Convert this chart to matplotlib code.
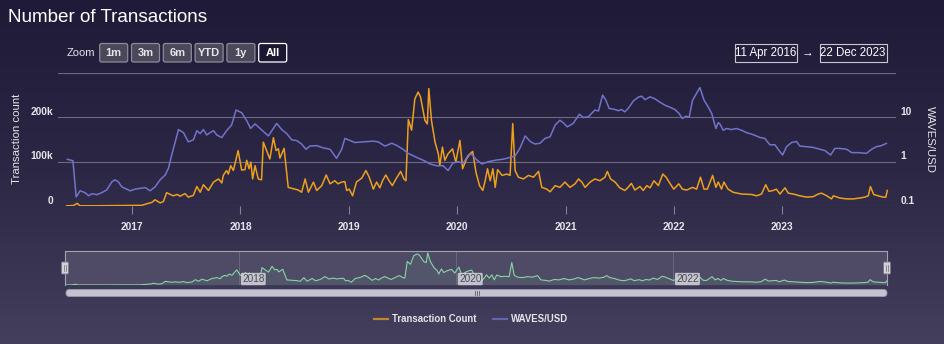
import numpy as np
import pandas as pd
import matplotlib as mpl
mpl.use('Agg')
import matplotlib.pyplot as plt
from matplotlib.patches import FancyBboxPatch, Rectangle

plt.rcParams['font.family'] = ['Liberation Sans', 'DejaVu Sans']

# Transaction count (thousands)
tx_dates = [
    '2016-05-25', '2016-06-17', '2016-06-29', '2016-07-09', '2016-08-23', '2016-10-19', '2016-12-13',
    '2017-02-02', '2017-02-19', '2017-03-08', '2017-03-19', '2017-04-05', '2017-04-16', '2017-04-27',
    '2017-05-19', '2017-06-02', '2017-06-11', '2017-06-28', '2017-07-09', '2017-07-26', '2017-08-07',
    '2017-08-18', '2017-08-29', '2017-09-15', '2017-10-02', '2017-10-19', '2017-10-30', '2017-11-04',
    '2017-11-15', '2017-11-21', '2017-11-29', '2017-12-08', '2017-12-24', '2018-01-05', '2018-01-16',
    '2018-01-22', '2018-01-30', '2018-02-05', '2018-02-11', '2018-02-19', '2018-03-02', '2018-03-13',
    '2018-03-19', '2018-03-30', '2018-04-10', '2018-04-22', '2018-05-01', '2018-05-09', '2018-05-14',
    '2018-05-28', '2018-06-11', '2018-06-28', '2018-07-15', '2018-07-26', '2018-08-07', '2018-08-18',
    '2018-09-04', '2018-09-15', '2018-10-02', '2018-10-17', '2018-10-30', '2018-11-15', '2018-11-26',
    '2018-12-08', '2018-12-19', '2018-12-25', '2019-01-03', '2019-01-14', '2019-01-27', '2019-02-14',
    '2019-02-28', '2019-03-11', '2019-03-25', '2019-04-05', '2019-04-16', '2019-04-25', '2019-05-06',
    '2019-05-17', '2019-05-28', '2019-06-11', '2019-06-25', '2019-07-06', '2019-07-13', '2019-07-21',
    '2019-08-01', '2019-08-12', '2019-08-23', '2019-08-31', '2019-09-15', '2019-09-23', '2019-09-28',
    '2019-10-07', '2019-10-19', '2019-10-30', '2019-11-04', '2019-11-13', '2019-11-21', '2019-12-02',
    '2019-12-17', '2019-12-28', '2020-01-11', '2020-01-20', '2020-02-02', '2020-02-14', '2020-02-23',
    '2020-03-05', '2020-03-17', '2020-03-28', '2020-04-05', '2020-04-13', '2020-04-22', '2020-05-01',
    '2020-05-09', '2020-05-17', '2020-06-01', '2020-06-17', '2020-06-28', '2020-07-07', '2020-07-15',
    '2020-07-26', '2020-08-12', '2020-08-29', '2020-09-15', '2020-10-02', '2020-10-13', '2020-10-30',
    '2020-11-10', '2020-11-27', '2020-12-13', '2020-12-30', '2021-01-16', '2021-02-02', '2021-02-14',
    '2021-02-25', '2021-03-08', '2021-03-25', '2021-04-10', '2021-04-27', '2021-05-14', '2021-05-22',
    '2021-06-02', '2021-06-17', '2021-07-03', '2021-07-20', '2021-07-31', '2021-08-11', '2021-08-23',
    '2021-09-09', '2021-09-20', '2021-10-02', '2021-10-13', '2021-10-26', '2021-11-10', '2021-11-25',
    '2021-12-06', '2021-12-20', '2022-01-01', '2022-01-18', '2022-01-30', '2022-02-14', '2022-03-05',
    '2022-03-19', '2022-04-01', '2022-04-13', '2022-04-24', '2022-05-12', '2022-05-23', '2022-05-31',
    '2022-06-11', '2022-06-19', '2022-07-03', '2022-07-20', '2022-08-18', '2022-09-20', '2022-10-07',
    '2022-10-24', '2022-11-07', '2022-11-18', '2022-12-02', '2022-12-13', '2022-12-25', '2023-01-11',
    '2023-01-22', '2023-02-08', '2023-03-02', '2023-03-25', '2023-04-16', '2023-05-03', '2023-05-14',
    '2023-06-01', '2023-06-17', '2023-06-23', '2023-07-15', '2023-08-07', '2023-08-29', '2023-09-20',
    '2023-10-07', '2023-10-19', '2023-10-26', '2023-11-06', '2023-11-21', '2023-12-08', '2023-12-17',
    '2023-12-22',
]
tx_count_k = [
    0.5, 1, 6, 0.5, 0.5, 0.8, 1,
    1.5, 5, 8, 14, 7, 10, 30,
    23, 26, 22, 28, 20, 24, 44,
    31, 48, 35, 54, 61, 52, 69,
    80, 72, 91, 80, 125, 81, 82,
    103, 84, 99, 61, 91, 61, 59,
    144, 125, 106, 154, 125, 129, 108,
    130, 42, 39, 36, 31, 61, 31,
    54, 35, 46, 70, 50, 57, 50,
    54, 55, 35, 38, 23, 54, 63,
    80, 65, 38, 54, 41, 57, 70,
    57, 46, 63, 78, 61, 57, 195,
    171, 242, 257, 246, 193, 185, 265,
    193, 144, 118, 91, 133, 103, 118,
    129, 99, 148, 84, 106, 118, 123,
    76, 46, 35, 57, 84, 57, 84,
    42, 82, 69, 72, 69, 186, 80,
    65, 61, 69, 65, 78, 42, 38,
    32, 46, 42, 54, 42, 50, 61,
    54, 42, 54, 61, 57, 65, 78,
    61, 54, 41, 35, 42, 51, 36,
    44, 35, 46, 41, 57, 46, 72,
    65, 50, 38, 50, 38, 36, 42,
    38, 65, 38, 38, 69, 42, 54,
    38, 54, 38, 31, 27, 26, 23,
    27, 48, 33, 35, 38, 27, 41,
    29, 27, 23, 20, 21, 27, 29,
    23, 16, 23, 18, 16, 16, 18,
    20, 23, 44, 26, 23, 20, 20,
    35,
]

# WAVES/USD price
price_dates = [
    '2016-05-27', '2016-06-15', '2016-06-26', '2016-07-09', '2016-07-26', '2016-08-07', '2016-08-18',
    '2016-09-04', '2016-09-20', '2016-10-07', '2016-10-24', '2016-11-04', '2016-11-15', '2016-11-27',
    '2016-12-13', '2016-12-25', '2017-01-11', '2017-01-27', '2017-02-14', '2017-03-02', '2017-03-19',
    '2017-04-05', '2017-04-22', '2017-05-03', '2017-05-14', '2017-05-26', '2017-06-06', '2017-06-23',
    '2017-07-09', '2017-07-26', '2017-08-07', '2017-08-18', '2017-08-29', '2017-09-09', '2017-09-18',
    '2017-10-02', '2017-10-13', '2017-10-30', '2017-11-15', '2017-12-02', '2017-12-17', '2018-01-05',
    '2018-01-22', '2018-02-04', '2018-02-19', '2018-03-08', '2018-04-05', '2018-05-03', '2018-05-20',
    '2018-06-06', '2018-06-23', '2018-07-09', '2018-07-26', '2018-08-10', '2018-08-23', '2018-09-15',
    '2018-10-07', '2018-10-30', '2018-11-21', '2018-12-02', '2018-12-08', '2018-12-19', '2019-01-05',
    '2019-01-22', '2019-02-19', '2019-03-25', '2019-04-10', '2019-05-03', '2019-05-26', '2019-06-11',
    '2019-07-03', '2019-07-20', '2019-08-18', '2019-09-15', '2019-10-02', '2019-10-24', '2019-11-15',
    '2019-12-02', '2019-12-18', '2020-01-05', '2020-01-22', '2020-02-08', '2020-02-19', '2020-03-08',
    '2020-03-25', '2020-04-16', '2020-05-14', '2020-06-06', '2020-06-28', '2020-07-15', '2020-07-31',
    '2020-08-18', '2020-09-04', '2020-09-20', '2020-10-07', '2020-10-24', '2020-11-10', '2020-11-27',
    '2020-12-13', '2020-12-25', '2021-01-07', '2021-01-27', '2021-02-17', '2021-03-02', '2021-03-19',
    '2021-04-10', '2021-04-22', '2021-05-06', '2021-05-17', '2021-05-28', '2021-06-17', '2021-06-28',
    '2021-07-09', '2021-07-20', '2021-07-31', '2021-08-18', '2021-09-04', '2021-09-15', '2021-09-26',
    '2021-10-13', '2021-10-30', '2021-11-15', '2021-12-02', '2021-12-20', '2022-01-05', '2022-01-19',
    '2022-01-30', '2022-02-11', '2022-02-22', '2022-03-05', '2022-03-19', '2022-03-30', '2022-04-13',
    '2022-04-27', '2022-05-09', '2022-05-23', '2022-05-31', '2022-06-06', '2022-06-17', '2022-06-28',
    '2022-07-15', '2022-07-31', '2022-08-18', '2022-09-04', '2022-09-20', '2022-10-07', '2022-10-19',
    '2022-11-04', '2022-11-21', '2022-12-08', '2022-12-25', '2023-01-03', '2023-01-16', '2023-02-02',
    '2023-02-19', '2023-03-02', '2023-03-25', '2023-04-16', '2023-05-09', '2023-05-26', '2023-06-14',
    '2023-06-28', '2023-07-15', '2023-08-07', '2023-08-24', '2023-09-15', '2023-10-13', '2023-10-30',
    '2023-11-15', '2023-12-02', '2023-12-19',
]
waves_usd = [
    1.13, 1.05, 0.16, 0.22, 0.20, 0.17, 0.19,
    0.18, 0.20, 0.23, 0.35, 0.39, 0.35, 0.27,
    0.24, 0.22, 0.24, 0.25, 0.26, 0.22, 0.27,
    0.39, 0.50, 0.71, 1.41, 2.8, 5.3, 4.5,
    2.8, 3.1, 5.0, 4.3, 5.3, 4.0, 4.4,
    5.0, 4.0, 3.5, 5.0, 6.7, 14.6, 12.7,
    8.4, 5.6, 7.1, 5.6, 3.8, 7.3, 5.3,
    4.3, 3.1, 3.0, 2.5, 1.9, 2.25, 2.3,
    2.05, 1.9, 1.19, 1.6, 1.9, 3.35, 3.0,
    2.7, 2.8, 2.9, 2.8, 2.25, 2.6, 2.35,
    1.9, 1.54, 1.25, 1.03, 0.89, 0.81, 0.81,
    0.63, 0.93, 1.0, 0.92, 1.41, 1.48, 1.09,
    0.89, 1.0, 1.09, 1.14, 1.25, 1.34, 2.0,
    3.8, 2.85, 2.5, 2.6, 3.35, 3.65, 6.7,
    8.6, 7.5, 6.1, 7.3, 11.8, 9.9, 10.3,
    14.6, 13.9, 31.7, 24.5, 15.9, 15.0, 14.1,
    15.0, 13.3, 15.8, 23.5, 28.7, 30.0, 25.0,
    29.0, 26.0, 22.0, 18.8, 16.8, 15.0, 12.2,
    9.4, 10.6, 10.1, 24.0, 35.0, 47.0, 24.4,
    17.2, 12.2, 5.6, 7.6, 7.0, 5.1, 5.6,
    5.3, 5.6, 5.1, 4.5, 4.2, 3.8, 3.5,
    3.35, 2.4, 2.4, 1.68, 1.41, 2.17, 2.7,
    2.85, 2.25, 2.17, 2.1, 1.9, 1.77, 1.41,
    1.99, 1.99, 1.9, 1.6, 1.6, 1.54, 1.9,
    2.17, 2.3, 2.58,
]

left_ticks = [0, 100, 200]
right_ticks = [0.1, 1, 10]
x_years = [2017, 2018, 2019, 2020, 2021, 2022, 2023]
nav_years = [2018, 2020, 2022]
zoom_buttons = ['1m', '3m', '6m', 'YTD', '1y', 'All']

ORANGE = '#eda01c'
BLUE = '#7273cc'
NAV_GREEN = '#86d6a4'
GRID = '#6d6a7c'
TXT = '#e4e4ea'

W, H = 944, 344
fig = plt.figure(figsize=(W / 100, H / 100), dpi=100)

def fx(px):
    return px / W

def fy(py):
    return 1 - py / H

# background gradient
bg = fig.add_axes([0, 0, 1, 1], zorder=-10)
grad = np.linspace(0, 1, 256).reshape(-1, 1)
bg_cmap = mpl.colors.LinearSegmentedColormap.from_list('bg', ['#1f1a37', '#2c2745', '#433f5c'])
bg.imshow(grad, aspect='auto', cmap=bg_cmap, extent=[0, 1, 0, 1], origin='upper')
bg.axis('off')

tx_t = pd.to_datetime(tx_dates)
px_t = pd.to_datetime(price_dates)
t0, t1 = tx_t.min(), tx_t.max()
pad = (t1 - t0) * 0.0106

# main chart
ax = fig.add_axes([fx(58), fy(206), fx(896) - fx(58), fy(73) - fy(206)])
ax.patch.set_alpha(0)
for s in ax.spines.values():
    s.set_visible(False)
ax.set_ylim(0, 300)
ax.set_yticks([0, 100, 200, 300])
ax.grid(axis='y', color=GRID, lw=0.8)
ax.tick_params(axis='y', length=0, labelleft=False)
ax.plot(tx_t, tx_count_k, color=ORANGE, lw=1.1)
ax.set_xlim(t0 - pad, t1 + pad)
ax.set_xticks(pd.to_datetime([f'{y}-01-01' for y in x_years]))
ax.set_xticklabels([str(y) for y in x_years], fontweight='bold')
ax.tick_params(axis='x', length=6, width=0.8, color='#858296', labelcolor=TXT, labelsize=7.4, pad=5.5)

for v in left_ticks:
    ax.annotate('0' if v == 0 else f'{v}k', xy=(0, v), xycoords=ax.get_yaxis_transform(),
                xytext=(-3.6, 3.8), textcoords='offset points', ha='right', va='center',
                fontsize=7.4, fontweight='bold', color=TXT)

axr = ax.twinx()
axr.set_yscale('log')
axr.set_ylim(0.1, 100)
for s in axr.spines.values():
    s.set_visible(False)
axr.tick_params(axis='y', which='both', length=0, labelright=False)
axr.plot(px_t, waves_usd, color=BLUE, lw=1.1)
for v in right_ticks:
    axr.annotate(f'{v:g}', xy=(1, v), xycoords=axr.get_yaxis_transform(),
                 xytext=(3, 3.8), textcoords='offset points', ha='left', va='center',
                 fontsize=7.4, fontweight='bold', color=TXT)

# navigator
nav = fig.add_axes([fx(65), fy(285), fx(887) - fx(65), fy(250.7) - fy(285)])
nav.set_facecolor('#4f4b66')
for s in nav.spines.values():
    s.set_color('#a5a2b4')
    s.set_linewidth(0.8)
nav.spines['bottom'].set_visible(False)
nav.plot(tx_t, tx_count_k, color=NAV_GREEN, lw=0.8)
nav.fill_between(tx_t, tx_count_k, color=NAV_GREEN, alpha=0.08, lw=0)
nav.set_xlim(t0, t1)
nav.set_ylim(0, max(tx_count_k) * 1.07)
yr_t = pd.to_datetime([f'{y}-01-01' for y in nav_years])
nav.set_xticks(yr_t)
nav.set_yticks([])
nav.grid(axis='x', color='#6f6b84', lw=0.6)
nav.tick_params(axis='x', length=0, labelbottom=False)
for y, t in zip(nav_years, yr_t):
    nav.annotate(str(y), xy=(t, 0), xycoords=('data', 'axes fraction'), xytext=(2.2, 4.3),
                 textcoords='offset points', ha='left', va='center', fontsize=7.2, color='#4a4a55',
                 bbox=dict(boxstyle='round,pad=0.12', fc='#d6d5de', ec='none', alpha=0.85))

# overlay in pixel coordinates for the widgets
ov = fig.add_axes([0, 0, 1, 1], zorder=5)
ov.set_xlim(0, W)
ov.set_ylim(H, 0)
ov.axis('off')

ov.text(8, 17, 'Number of Transactions', fontsize=13.6, color='white', ha='left', va='center')
ov.text(17, 139, 'Transaction count', rotation=90, fontsize=8.2, color=TXT, ha='center', va='center')
ov.text(930, 139, 'WAVES/USD', rotation=270, fontsize=8.2, color=TXT, ha='center', va='center')

ov.text(67, 52.5, 'Zoom', fontsize=8, color=TXT, ha='left', va='center')
bx = 99.7
for lab in zoom_buttons:
    sel = lab == 'All'
    ov.add_patch(FancyBboxPatch((bx, 43.5), 28, 18.5, boxstyle='round,pad=0,rounding_size=2',
                                fc='#1b1631' if sel else '#4b4959',
                                ec='white' if sel else '#8d8b9b', lw=0.9))
    ov.text(bx + 14, 53, lab, fontsize=8, fontweight='bold', color='white' if sel else TXT,
            ha='center', va='center')
    bx += 31.8

ov.add_patch(Rectangle((734.5, 43.5), 62.5, 18.5, fc='none', ec='#c9c8d2', lw=0.8))
ov.text(765.7, 53, '11 Apr 2016', fontsize=8.3, color='white', ha='center', va='center')
ov.text(808, 52.5, '\u2192', fontsize=8.5, color='white', ha='center', va='center')
ov.add_patch(Rectangle((819.5, 43.5), 67, 18.5, fc='none', ec='#c9c8d2', lw=0.8))
ov.text(853, 53, '22 Dec 2023', fontsize=8.3, color='white', ha='center', va='center')

# navigator handles and scrollbar
for hx in (65, 887):
    ov.add_patch(FancyBboxPatch((hx - 3.5, 262), 7, 12, boxstyle='round,pad=0,rounding_size=1',
                                fc='#d3d2da', ec='#7a7888', lw=0.7))
    ov.plot([hx - 0.8, hx - 0.8], [265, 271], color='#6a6878', lw=0.5)
    ov.plot([hx + 0.8, hx + 0.8], [265, 271], color='#6a6878', lw=0.5)
ov.add_patch(FancyBboxPatch((66, 289.5), 821, 7, boxstyle='round,pad=0,rounding_size=3.5',
                            fc='#c5c3d1', ec='#9b99ab', lw=0.6))
for gx in (474.5, 476.5, 478.5):
    ov.plot([gx, gx], [291, 295], color='#5a586a', lw=0.6)

# legend
ov.plot([374, 387.5], [319, 319], color=ORANGE, lw=1.6, alpha=0.75)
ov.text(392, 319.5, 'Transaction Count', fontsize=6.9, fontweight='bold', color=TXT, ha='left', va='center')
ov.plot([493, 506.5], [319, 319], color=BLUE, lw=1.6, alpha=0.75)
ov.text(511, 319.5, 'WAVES/USD', fontsize=6.9, fontweight='bold', color=TXT, ha='left', va='center')

fig.savefig('out.png', dpi=100)
